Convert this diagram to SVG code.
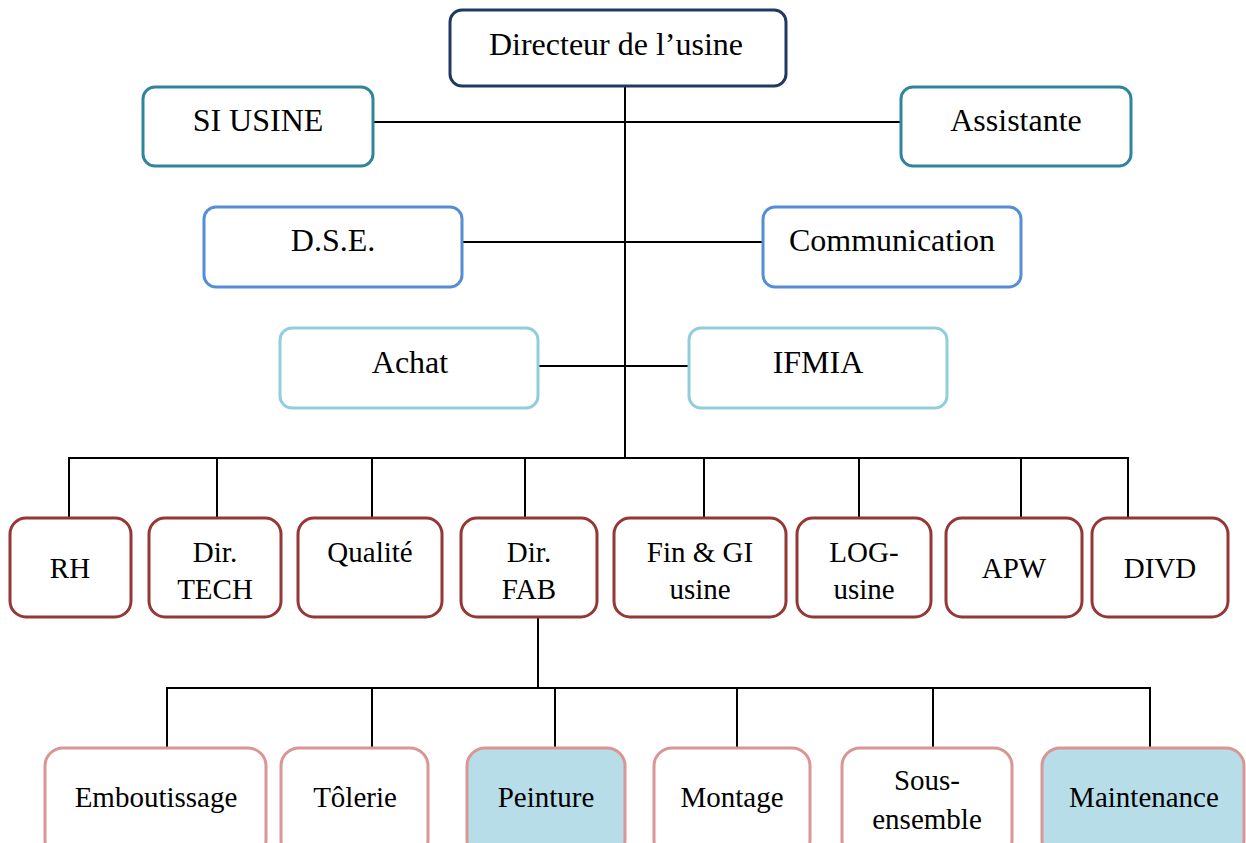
<svg xmlns="http://www.w3.org/2000/svg" width="1246" height="843" viewBox="0 0 1246 843">
<style>
rect{stroke-width:3}
.top{fill:#fff;stroke:#1F3864}
.l1{fill:#fff;stroke:#31849B}
.l2{fill:#fff;stroke:#558ED5}
.l3{fill:#fff;stroke:#92CDDC}
.dep{fill:#fff;stroke:#953735}
.sec{fill:#fff;stroke:#D99694}
.sec.hl{fill:#B7DDE8}
text{font-family:"Liberation Serif","Times New Roman",serif;font-size:32px;fill:#000;text-anchor:middle}
.s{font-size:29px}
#connectors line{stroke:#000;stroke-width:2}
</style>
<rect width="1246" height="843" fill="#fff" style="stroke:none"/>
<g id="connectors">
<line x1="625" y1="86" x2="625" y2="459"/>
<line x1="373" y1="122" x2="901" y2="122"/>
<line x1="462" y1="242" x2="763" y2="242"/>
<line x1="538" y1="366" x2="689" y2="366"/>
<line x1="68" y1="458" x2="1129" y2="458"/>
<line x1="69" y1="458" x2="69" y2="518"/>
<line x1="217" y1="458" x2="217" y2="518"/>
<line x1="372" y1="458" x2="372" y2="518"/>
<line x1="525" y1="458" x2="525" y2="518"/>
<line x1="704" y1="458" x2="704" y2="518"/>
<line x1="859" y1="458" x2="859" y2="518"/>
<line x1="1021" y1="458" x2="1021" y2="518"/>
<line x1="1128" y1="458" x2="1128" y2="518"/>
<line x1="538" y1="617" x2="538" y2="688"/>
<line x1="166" y1="688" x2="1151" y2="688"/>
<line x1="167" y1="688" x2="167" y2="748"/>
<line x1="372" y1="688" x2="372" y2="748"/>
<line x1="555" y1="688" x2="555" y2="748"/>
<line x1="737" y1="688" x2="737" y2="748"/>
<line x1="933" y1="688" x2="933" y2="748"/>
<line x1="1150" y1="688" x2="1150" y2="748"/>
</g>
<g id="n-directeur"><rect class="top" x="450" y="10" width="336" height="76" rx="12"/><text x="616" y="55">Directeur de l’usine</text></g>
<g id="n-si-usine"><rect class="l1" x="143" y="87" width="230" height="79" rx="12"/><text x="258" y="131">SI USINE</text></g>
<g id="n-assistante"><rect class="l1" x="901" y="87" width="230" height="79" rx="12"/><text x="1016" y="131">Assistante</text></g>
<g id="n-dse"><rect class="l2" x="204" y="207" width="258" height="80" rx="12"/><text x="333" y="251">D.S.E.</text></g>
<g id="n-communication"><rect class="l2" x="763" y="207" width="258" height="80" rx="12"/><text x="892" y="251">Communication</text></g>
<g id="n-achat"><rect class="l3" x="280" y="328" width="258" height="80" rx="12"/><text x="410" y="373">Achat</text></g>
<g id="n-ifmia"><rect class="l3" x="689" y="328" width="258" height="80" rx="12"/><text x="818" y="373">IFMIA</text></g>
<g id="n-rh"><rect class="dep" x="10" y="518" width="121" height="99" rx="16"/><text class="s" x="70" y="578">RH</text></g>
<g id="n-dir-tech"><rect class="dep" x="149" y="518" width="132" height="99" rx="16"/><text class="s" x="215" y="562">Dir.</text><text class="s" x="215" y="599">TECH</text></g>
<g id="n-qualite"><rect class="dep" x="298" y="518" width="144" height="99" rx="16"/><text class="s" x="370" y="562">Qualité</text></g>
<g id="n-dir-fab"><rect class="dep" x="461" y="518" width="136" height="99" rx="16"/><text class="s" x="529" y="562">Dir.</text><text class="s" x="529" y="599">FAB</text></g>
<g id="n-fin-gi"><rect class="dep" x="614" y="518" width="172" height="99" rx="16"/><text class="s" x="700" y="562">Fin &amp; GI</text><text class="s" x="700" y="599">usine</text></g>
<g id="n-log"><rect class="dep" x="797" y="518" width="134" height="99" rx="16"/><text class="s" x="864" y="562">LOG-</text><text class="s" x="864" y="599">usine</text></g>
<g id="n-apw"><rect class="dep" x="946" y="518" width="136" height="99" rx="16"/><text class="s" x="1014" y="578">APW</text></g>
<g id="n-divd"><rect class="dep" x="1092" y="518" width="136" height="99" rx="16"/><text class="s" x="1160" y="578">DIVD</text></g>
<g id="n-emboutissage"><rect class="sec" x="45" y="748" width="221" height="110" rx="18"/><text class="s" x="156" y="807">Emboutissage</text></g>
<g id="n-tolerie"><rect class="sec" x="281" y="748" width="147" height="110" rx="18"/><text class="s" x="355" y="807">Tôlerie</text></g>
<g id="n-peinture"><rect class="sec hl" x="467" y="748" width="158" height="110" rx="18"/><text class="s" x="546" y="807">Peinture</text></g>
<g id="n-montage"><rect class="sec" x="654" y="748" width="156" height="110" rx="18"/><text class="s" x="732" y="807">Montage</text></g>
<g id="n-sous-ensemble"><rect class="sec" x="842" y="748" width="170" height="110" rx="18"/><text class="s" x="927" y="790">Sous-</text><text class="s" x="927" y="829">ensemble</text></g>
<g id="n-maintenance"><rect class="sec hl" x="1042" y="748" width="202" height="110" rx="18"/><text class="s" x="1144" y="807">Maintenance</text></g>
</svg>
